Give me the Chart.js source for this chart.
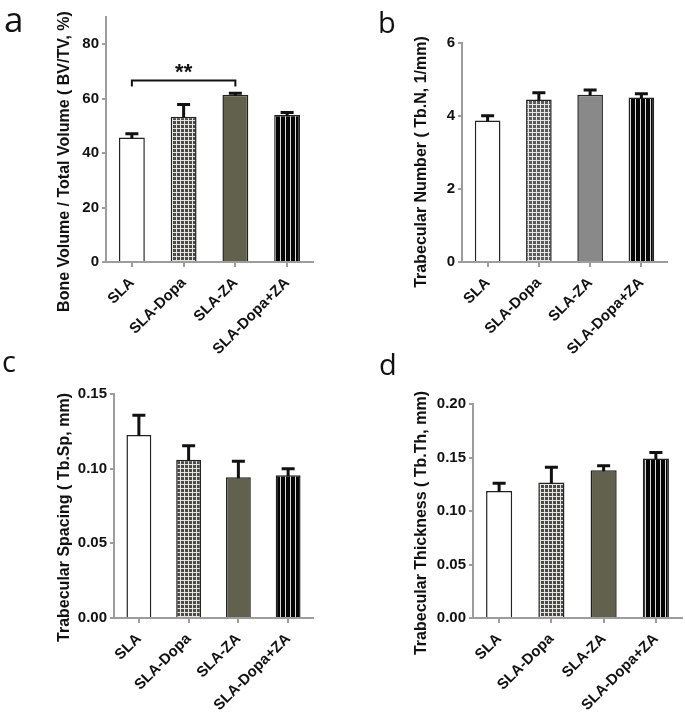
<!DOCTYPE html>
<html>
<head>
<meta charset="utf-8">
<script src="https://cdn.jsdelivr.net/npm/chart.js@4.4.0/dist/chart.umd.min.js"></script>
<style>
  body { margin: 0; background: #fff; }
  #wrap { position: relative; width: 685px; height: 712px; overflow: hidden; }
  #wrap canvas { position: absolute; left: 0; top: 0; }
  .tag { position: absolute; font-family: "Open Sans", sans-serif; line-height: 1; color: #111; }
</style>
</head>
<body>
<div id="wrap">
  <canvas id="chartA" width="685" height="712"></canvas>
  <canvas id="chartB" width="685" height="712"></canvas>
  <canvas id="chartC" width="685" height="712"></canvas>
  <canvas id="chartD" width="685" height="712"></canvas>
  <div class="tag" style="left:4px;top:1px;font-size:35px">a</div>
  <div class="tag" style="left:378px;top:7px;font-size:29px">b</div>
  <div class="tag" style="left:2px;top:346px;font-size:29px">c</div>
  <div class="tag" style="left:379px;top:349px;font-size:29px">d</div>
</div>
<script>
// groups (x categories)
const groups = ["SLA", "SLA-Dopa", "SLA-ZA", "SLA-Dopa+ZA"];

// a. BV/TV (%)
const bvtv = [45.7, 53.4, 61.4, 54.0];
const bvtvErr = [1.4, 4.5, 0.6, 0.9];
const bvtvTicks = [0, 20, 40, 60, 80];

// b. Tb.N (1/mm)
const tbN = [3.88, 4.45, 4.58, 4.51];
const tbNErr = [0.13, 0.19, 0.13, 0.10];
const tbNTicks = [0, 2, 4, 6];

// c. Tb.Sp (mm)
const tbSp = [0.1225, 0.106, 0.0943, 0.0956];
const tbSpErr = [0.0133, 0.0094, 0.0107, 0.0044];
const tbSpTicks = [0, 0.05, 0.10, 0.15];

// d. Tb.Th (mm)
const tbTh = [0.1186, 0.1267, 0.138, 0.149];
const tbThErr = [0.0073, 0.0142, 0.0042, 0.0056];
const tbThTicks = [0, 0.05, 0.10, 0.15, 0.20];

document.addEventListener("DOMContentLoaded", () => {

    // =========================
    // ESTILO GLOBAL
    // =========================

    Chart.defaults.font.family = "'Liberation Sans', Arial, sans-serif";
    Chart.defaults.font.weight = "bold";
    Chart.defaults.font.size = 15;
    Chart.defaults.color = "#111";

    const W = 685, H = 712;
    const axisGrey = "#9d9d9d";

    function gridFill(ctx, bg) {
        const t = document.createElement("canvas");
        t.width = 4; t.height = 4;
        const g = t.getContext("2d");
        g.fillStyle = bg; g.fillRect(0, 0, 4, 4);
        g.fillStyle = "#e6e6e6";
        g.fillRect(0, 0, 4, 1);
        g.fillRect(0, 0, 1, 4);
        return ctx.createPattern(t, "repeat");
    }

    function stripeFill(ctx) {
        const t = document.createElement("canvas");
        t.width = 5; t.height = 2;
        const g = t.getContext("2d");
        g.fillStyle = "#050505"; g.fillRect(0, 0, 5, 2);
        g.fillStyle = "#d8d8d8"; g.fillRect(0, 0, 1, 2);
        return ctx.createPattern(t, "repeat");
    }

    // error bars, bracket and y title
    const extras = {
        id: "extras",
        afterDatasetsDraw(chart, args, opts) {
            const { ctx } = chart;
            const xs = chart.scales.x, ys = chart.scales.y;
            const vals = chart.data.datasets[0].data;
            ctx.save();
            ctx.strokeStyle = "#111";
            ctx.lineWidth = 3;
            chart.getDatasetMeta(0).data.forEach((bar, i) => {
                const top = ys.getPixelForValue(vals[i] + opts.errors[i]);
                ctx.beginPath();
                ctx.moveTo(bar.x, bar.y + 1);
                ctx.lineTo(bar.x, top);
                ctx.moveTo(bar.x - 6.5, top);
                ctx.lineTo(bar.x + 6.5, top);
                ctx.stroke();
            });

            if (opts.bracket) {
                const b = opts.bracket;
                const x0 = xs.getPixelForValue(b.from), x1 = xs.getPixelForValue(b.to);
                const yb = ys.getPixelForValue(b.value);
                ctx.lineWidth = 2;
                ctx.beginPath();
                ctx.moveTo(x0, yb + 6); ctx.lineTo(x0, yb);
                ctx.lineTo(x1, yb); ctx.lineTo(x1, yb + 6);
                ctx.stroke();
                ctx.fillStyle = "#111";
                ctx.font = "bold 22px 'Liberation Sans', Arial, sans-serif";
                ctx.textAlign = "center";
                ctx.textBaseline = "alphabetic";
                ctx.fillText(b.text, (x0 + x1) / 2, yb - 1);
            }

            ctx.translate(opts.title.x, opts.title.y);
            ctx.rotate(-Math.PI / 2);
            ctx.fillStyle = "#111";
            ctx.font = "bold 16px 'Liberation Sans', Arial, sans-serif";
            ctx.textAlign = "center";
            ctx.textBaseline = "middle";
            ctx.fillText(opts.title.text, 0, 0);
            ctx.restore();
        }
    };

    function panel(id, cfg) {
        const el = document.getElementById(id);
        const ctx = el.getContext("2d");
        const a = cfg.area;
        return new Chart(el, {
            type: "bar",
            data: {
                labels: groups,
                datasets: [{
                    data: cfg.values,
                    backgroundColor: ["#ffffff", gridFill(ctx, cfg.gridBg), cfg.zaColor, stripeFill(ctx)],
                    borderColor: "#222",
                    borderWidth: 1.5,
                    barPercentage: 0.5,
                    categoryPercentage: 1
                }]
            },
            options: {
                responsive: false,
                animation: false,
                events: [],
                layout: {
                    padding: { left: a.left - 40, top: a.top, right: W - a.right, bottom: H - a.bottom - 100 }
                },
                plugins: {
                    legend: { display: false },
                    tooltip: { enabled: false },
                    extras: { errors: cfg.errors, bracket: cfg.bracket, title: cfg.title }
                },
                scales: {
                    x: {
                        grid: { offset: false, drawOnChartArea: false, tickLength: 5, color: axisGrey, lineWidth: 2 },
                        border: { color: axisGrey, width: 2 },
                        ticks: { minRotation: 45, maxRotation: 45, autoSkip: false, padding: 7 },
                        afterFit: s => { s.height = 100; }
                    },
                    y: {
                        min: 0,
                        max: cfg.max,
                        grid: { drawOnChartArea: false, tickLength: 4, color: axisGrey, lineWidth: 2 },
                        border: { color: axisGrey, width: 2 },
                        ticks: { padding: 3, callback: v => v.toFixed(cfg.dec) },
                        afterBuildTicks: s => { s.ticks = cfg.ticks.map(v => ({ value: v })); },
                        afterFit: s => { s.width = 40; }
                    }
                }
            },
            plugins: [extras]
        });
    }

    // =========================
    // a. BONE VOLUME / TOTAL VOLUME
    // =========================

    panel("chartA", {
        values: bvtv, errors: bvtvErr, ticks: bvtvTicks, max: 90, dec: 0,
        area: { left: 106, top: 17, right: 313, bottom: 262 },
        gridBg: "#4c4b42", zaColor: "#62614e",
        bracket: { from: 0, to: 2, value: 66.7, text: "**" },
        title: { text: "Bone Volume / Total Volume ( BV/TV, %)", x: 65, y: 161.5 }
    });

    // =========================
    // b. TRABECULAR NUMBER
    // =========================

    panel("chartB", {
        values: tbN, errors: tbNErr, ticks: tbNTicks, max: 6, dec: 0,
        area: { left: 462, top: 43, right: 667, bottom: 262 },
        gridBg: "#5a5a5a", zaColor: "#898989",
        title: { text: "Trabecular Number ( Tb.N, 1/mm)", x: 422, y: 162 }
    });

    // =========================
    // c. TRABECULAR SPACING
    // =========================

    panel("chartC", {
        values: tbSp, errors: tbSpErr, ticks: tbSpTicks, max: 0.15, dec: 2,
        area: { left: 114, top: 394, right: 313, bottom: 618 },
        gridBg: "#4c4b42", zaColor: "#62614e",
        title: { text: "Trabecular Spacing ( Tb.Sp, mm)", x: 65, y: 517.5 }
    });

    // =========================
    // d. TRABECULAR THICKNESS
    // =========================

    panel("chartD", {
        values: tbTh, errors: tbThErr, ticks: tbThTicks, max: 0.20, dec: 2,
        area: { left: 473, top: 404, right: 682, bottom: 618 },
        gridBg: "#4c4b42", zaColor: "#62614e",
        title: { text: "Trabecular Thickness ( Tb.Th, mm)", x: 422, y: 523 }
    });

});
</script>
</body>
</html>
